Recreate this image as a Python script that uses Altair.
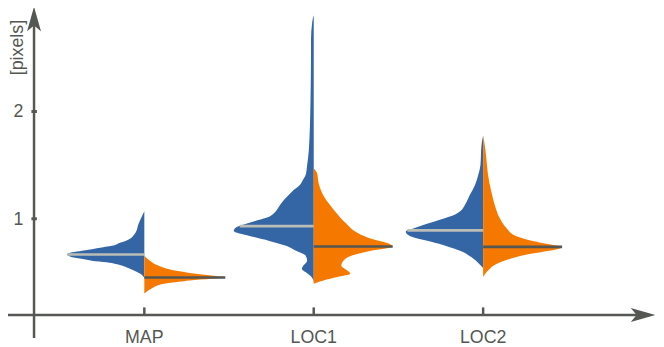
import altair as alt
import pandas as pd

# ---------------- data ----------------
categories = ["MAP", "LOC1", "LOC2"]
positions = [1, 2, 3]

# left (blue) halves: y values and half-widths (x units)
map_left_y = [1.070, 0.948, 0.871, 0.794, 0.779, 0.748, 0.733, 0.717, 0.702, 0.687, 0.667, 0.644, 0.625, 0.610, 0.595, 0.579, 0.533, 0.487, 0.450]
map_left_w = [0.000, 0.035, 0.052, 0.111, 0.140, 0.192, 0.251, 0.309, 0.367, 0.426, 0.455, 0.431, 0.362, 0.309, 0.222, 0.169, 0.082, 0.023, 0.000]

loc1_left_y = [2.897, 2.835, 2.669, 2.559, 2.099, 1.638, 1.500, 1.408, 1.362, 1.316, 1.270, 1.224, 1.178, 1.116, 1.055, 1.009, 0.978, 0.948, 0.917, 0.886, 0.840, 0.794, 0.748, 0.702, 0.656, 0.610, 0.564, 0.533, 0.503, 0.457, 0.411]
loc1_left_w = [0.000, 0.009, 0.016, 0.016, 0.019, 0.029, 0.039, 0.048, 0.064, 0.082, 0.117, 0.146, 0.175, 0.204, 0.233, 0.280, 0.350, 0.408, 0.461, 0.472, 0.379, 0.262, 0.163, 0.105, 0.047, 0.039, 0.061, 0.070, 0.048, 0.013, 0.000]

loc2_left_y = [1.776, 1.684, 1.500, 1.408, 1.316, 1.224, 1.132, 1.070, 1.033, 0.994, 0.954, 0.911, 0.880, 0.825, 0.788, 0.745, 0.702, 0.641, 0.579, 0.542]
loc2_left_w = [0.000, 0.010, 0.016, 0.029, 0.048, 0.078, 0.107, 0.136, 0.175, 0.251, 0.331, 0.408, 0.457, 0.408, 0.311, 0.214, 0.136, 0.068, 0.023, 0.000]

# right (orange) halves
map_right_y = [0.656, 0.610, 0.564, 0.517, 0.487, 0.469, 0.453, 0.441, 0.425, 0.413, 0.395, 0.349, 0.303]
map_right_w = [0.000, 0.033, 0.082, 0.181, 0.303, 0.408, 0.478, 0.397, 0.268, 0.204, 0.117, 0.041, 0.000]

loc1_right_y = [1.470, 1.424, 1.331, 1.239, 1.147, 1.055, 0.963, 0.871, 0.809, 0.773, 0.742, 0.702, 0.656, 0.610, 0.564, 0.517, 0.487, 0.457, 0.425, 0.395]
loc1_right_w = [0.000, 0.020, 0.029, 0.050, 0.087, 0.134, 0.187, 0.257, 0.350, 0.437, 0.466, 0.338, 0.222, 0.175, 0.163, 0.198, 0.216, 0.140, 0.058, 0.000]

loc2_right_y = [1.776, 1.684, 1.562, 1.408, 1.254, 1.132, 1.009, 0.917, 0.840, 0.794, 0.763, 0.738, 0.702, 0.671, 0.625, 0.579, 0.517, 0.457]
loc2_right_w = [0.000, 0.010, 0.019, 0.029, 0.048, 0.068, 0.097, 0.136, 0.194, 0.292, 0.389, 0.466, 0.389, 0.272, 0.156, 0.078, 0.029, 0.000]

# medians and the half-length of their lines
left_median = [0.667, 0.932, 0.892]
left_median_w = [0.453, 0.437, 0.447]
right_median = [0.453, 0.742, 0.738]
right_median_w = [0.478, 0.466, 0.466]

y_ticks = [1, 2]
y_title = "[pixels]"

# ---------------- styling ----------------
BLUE = "#3465a4"
ORANGE = "#f57900"
LIGHT = "#babdb6"
DARK = "#555753"
FONT = "Liberation Sans"

XDOM = [0.1953, 4.0204]
YDOM = [-0.1759, 2.9457]
xs = alt.Scale(domain=XDOM, nice=False, zero=False)
ys = alt.Scale(domain=YDOM, nice=False, zero=False)

# ---------------- build tables ----------------
halves = [
    (0, "left", map_left_y, map_left_w),
    (0, "right", map_right_y, map_right_w),
    (1, "left", loc1_left_y, loc1_left_w),
    (1, "right", loc1_right_y, loc1_right_w),
    (2, "left", loc2_left_y, loc2_left_w),
    (2, "right", loc2_right_y, loc2_right_w),
]
rows = []
for ci, side, yy, ww in halves:
    p = positions[ci]
    for k, (y, w) in enumerate(zip(yy, ww)):
        if side == "left":
            x0, x1 = p - w, p
        else:
            x0, x1 = p, p + w
        rows.append({"key": f"{categories[ci]}-{side}", "side": side, "y": y, "x": x0, "x2": x1})
vdf = pd.DataFrame(rows)

med_rows = []
for i, p in enumerate(positions):
    med_rows.append({"side": "left", "y": left_median[i], "x": p - left_median_w[i], "x2": p})
    med_rows.append({"side": "right", "y": right_median[i], "x": p, "x2": p + right_median_w[i]})
mdf = pd.DataFrame(med_rows)

violins = alt.Chart(vdf).mark_area(orient="horizontal", interpolate="monotone").encode(
    y=alt.Y("y:Q", scale=ys, axis=None),
    x=alt.X("x:Q", scale=xs, axis=None),
    x2="x2:Q",
    detail="key:N",
    color=alt.Color("side:N", scale=alt.Scale(domain=["left", "right"], range=[BLUE, ORANGE]), legend=None),
)

med_left = alt.Chart(mdf[mdf.side == "left"]).mark_rule(strokeWidth=2.7, color=LIGHT).encode(
    y=alt.Y("y:Q", scale=ys, axis=None), x=alt.X("x:Q", scale=xs, axis=None), x2="x2:Q")
med_right = alt.Chart(mdf[mdf.side == "right"]).mark_rule(strokeWidth=2.7, color=DARK).encode(
    y=alt.Y("y:Q", scale=ys, axis=None), x=alt.X("x:Q", scale=xs, axis=None), x2="x2:Q")

# ---------------- hand-drawn axes ----------------
AX_Y = 0.103   # value where the horizontal axis crosses
AX_X = 0.349   # x value of the vertical axis

xline = alt.Chart(pd.DataFrame({"x": [XDOM[0]], "x2": [3.941], "y": [AX_Y]})).mark_rule(
    strokeWidth=2.5, color=DARK).encode(
    x=alt.X("x:Q", scale=xs, axis=None), x2="x2:Q", y=alt.Y("y:Q", scale=ys, axis=None))
yline = alt.Chart(pd.DataFrame({"y": [-0.111], "y2": [2.85], "x": [AX_X]})).mark_rule(
    strokeWidth=2.5, color=DARK).encode(
    y=alt.Y("y:Q", scale=ys, axis=None), y2="y2:Q", x=alt.X("x:Q", scale=xs, axis=None))

UP = "M 0 -1 L 0.54 0.92 L 0 0.46 L -0.54 0.92 Z"
RIGHT = "M 1 0 L -0.92 0.54 L -0.46 0 L -0.92 -0.54 Z"
yarrow = alt.Chart(pd.DataFrame({"x": [AX_X], "y": [2.858]})).mark_point(
    shape=UP, filled=True, size=676, color=DARK, opacity=1, strokeWidth=0).encode(
    x=alt.X("x:Q", scale=xs, axis=None), y=alt.Y("y:Q", scale=ys, axis=None))
xarrow = alt.Chart(pd.DataFrame({"x": [3.941], "y": [AX_Y]})).mark_point(
    shape=RIGHT, filled=True, size=676, color=DARK, opacity=1, strokeWidth=0).encode(
    x=alt.X("x:Q", scale=xs, axis=None), y=alt.Y("y:Q", scale=ys, axis=None))

xticks = alt.Chart(pd.DataFrame({"x": positions, "y": [AX_Y] * 3, "y2": [0.174] * 3})).mark_rule(
    strokeWidth=2.5, color=DARK).encode(
    x=alt.X("x:Q", scale=xs, axis=None), y=alt.Y("y:Q", scale=ys, axis=None), y2="y2:Q")
yticks = alt.Chart(pd.DataFrame({"y": y_ticks, "x": [0.3335] * 2, "x2": [0.366] * 2})).mark_rule(
    strokeWidth=3, color=DARK).encode(
    y=alt.Y("y:Q", scale=ys, axis=None), x=alt.X("x:Q", scale=xs, axis=None), x2="x2:Q")

xlabels = alt.Chart(pd.DataFrame({"x": positions, "label": categories, "y": [-0.157] * 3})).mark_text(
    font=FONT, fontSize=18, color=DARK, baseline="alphabetic", align="center").encode(
    x=alt.X("x:Q", scale=xs, axis=None), y=alt.Y("y:Q", scale=ys, axis=None), text="label:N")
ylabels = alt.Chart(pd.DataFrame({"y": y_ticks, "label": [str(t) for t in y_ticks], "x": [0.286] * 2})).mark_text(
    font=FONT, fontSize=18, color=DARK, baseline="middle", align="right", dy=1).encode(
    x=alt.X("x:Q", scale=xs, axis=None), y=alt.Y("y:Q", scale=ys, axis=None), text="label:N")
ytitle = alt.Chart(pd.DataFrame({"x": [0.2566], "y": [2.596], "label": [y_title]})).mark_text(
    font=FONT, fontSize=18, color=DARK, baseline="middle", align="center", angle=270).encode(
    x=alt.X("x:Q", scale=xs, axis=None), y=alt.Y("y:Q", scale=ys, axis=None), text="label:N")

chart = alt.layer(
    violins, med_left, med_right, xline, yline, xticks, yticks, xarrow, yarrow, xlabels, ylabels, ytitle
).properties(
    width=656, height=339, autosize=alt.AutoSizeParams(type="none"), padding=0
).configure_view(stroke=None)

chart.save("out.html", embed_options={"renderer": "svg", "actions": False})
